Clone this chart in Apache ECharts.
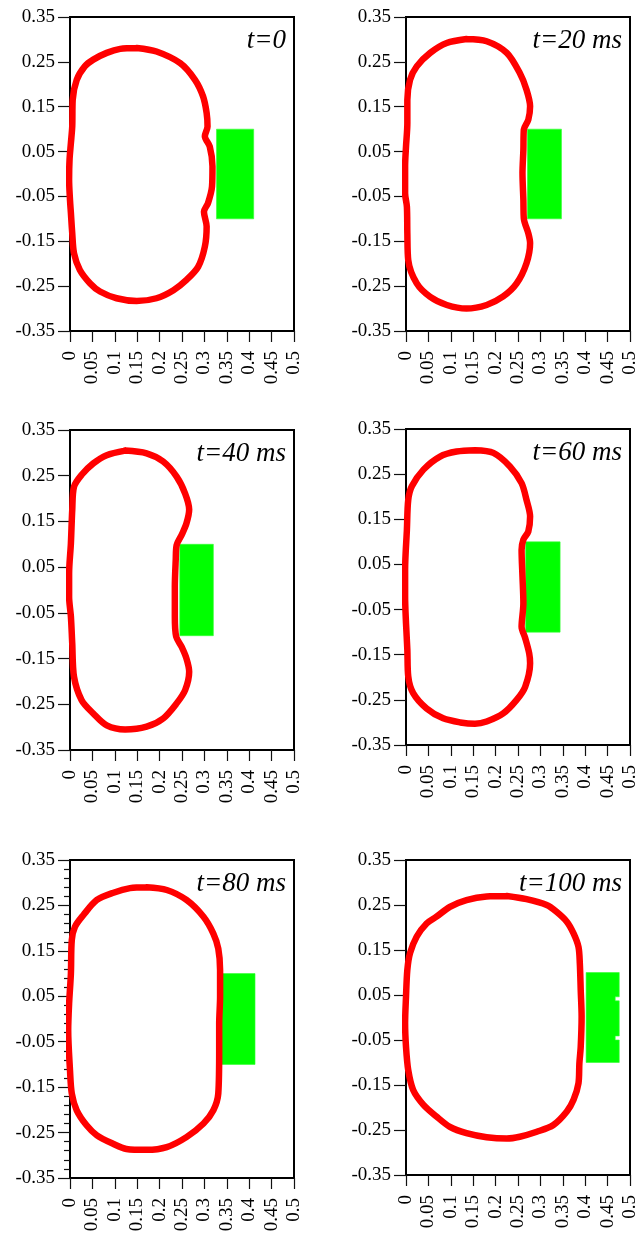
<!DOCTYPE html>
<html>
<head>
<meta charset="utf-8">
<title>shapes</title>
<script src="https://cdn.jsdelivr.net/npm/echarts@6/dist/echarts.min.js"></script>
<style>
html,body{margin:0;padding:0;background:#fff;}
#main{width:643px;height:1236px;}
</style>
</head>
<body>
<div id="main"></div>
<script>
// axis ticks
var xTicks = [0, 0.05, 0.1, 0.15, 0.2, 0.25, 0.3, 0.35, 0.4, 0.45, 0.5];
var yTicks = [-0.35, -0.25, -0.15, -0.05, 0.05, 0.15, 0.25, 0.35];
var titles = ['t=0', 't=20 ms', 't=40 ms', 't=60 ms', 't=80 ms', 't=100 ms'];

// red outlines (x, y)
var shape0 = [[0.149,0.281],[0.193,0.273],[0.246,0.247],[0.279,0.210],[0.297,0.173],[0.305,0.136],[0.307,0.106],[0.301,0.084],[0.312,0.061],[0.318,0.017],[0.317,-0.028],[0.308,-0.065],[0.299,-0.084],[0.305,-0.117],[0.301,-0.162],[0.286,-0.207],[0.260,-0.236],[0.231,-0.259],[0.193,-0.277],[0.149,-0.283],[0.104,-0.277],[0.067,-0.262],[0.045,-0.244],[0.022,-0.214],[0.009,-0.177],[0.005,-0.132],[0.002,-0.087],[0.000,-0.058],[-0.002,-0.013],[-0.001,0.032],[0.002,0.069],[0.005,0.106],[0.006,0.165],[0.015,0.210],[0.033,0.240],[0.052,0.255],[0.082,0.270],[0.112,0.279],[0.149,0.281]];
var shape20 = [[0.135,0.301],[0.180,0.296],[0.225,0.270],[0.254,0.225],[0.269,0.188],[0.277,0.151],[0.273,0.121],[0.263,0.099],[0.262,0.054],[0.260,0.002],[0.262,-0.058],[0.263,-0.099],[0.273,-0.132],[0.277,-0.154],[0.269,-0.199],[0.247,-0.244],[0.217,-0.273],[0.180,-0.292],[0.135,-0.300],[0.091,-0.292],[0.054,-0.274],[0.024,-0.244],[0.005,-0.192],[0.003,-0.132],[0.002,-0.073],[-0.002,-0.043],[-0.002,0.017],[0.000,0.061],[0.003,0.113],[0.003,0.165],[0.009,0.210],[0.024,0.240],[0.054,0.270],[0.091,0.292],[0.135,0.301]];
var shape40 = [[0.123,0.305],[0.171,0.299],[0.208,0.281],[0.238,0.248],[0.257,0.211],[0.266,0.176],[0.260,0.146],[0.249,0.120],[0.238,0.098],[0.236,0.066],[0.234,0.007],[0.234,-0.058],[0.237,-0.102],[0.249,-0.124],[0.260,-0.150],[0.266,-0.179],[0.257,-0.219],[0.238,-0.248],[0.208,-0.281],[0.171,-0.299],[0.123,-0.305],[0.082,-0.296],[0.052,-0.270],[0.026,-0.241],[0.009,-0.190],[0.005,-0.117],[0.002,-0.058],[-0.002,-0.015],[-0.002,0.036],[0.002,0.102],[0.005,0.175],[0.009,0.226],[0.026,0.252],[0.052,0.277],[0.082,0.295],[0.123,0.305]];
var shape60 = [[0.154,0.303],[0.195,0.297],[0.232,0.267],[0.258,0.230],[0.269,0.193],[0.277,0.156],[0.273,0.123],[0.262,0.105],[0.258,0.082],[0.260,0.023],[0.262,-0.036],[0.258,-0.088],[0.266,-0.113],[0.275,-0.147],[0.277,-0.169],[0.266,-0.221],[0.247,-0.250],[0.217,-0.280],[0.180,-0.298],[0.154,-0.303],[0.121,-0.300],[0.083,-0.291],[0.046,-0.269],[0.016,-0.235],[0.005,-0.198],[0.003,-0.139],[0.000,-0.080],[-0.002,-0.021],[-0.002,0.038],[0.002,0.127],[0.005,0.193],[0.013,0.223],[0.039,0.260],[0.076,0.289],[0.113,0.300],[0.154,0.303]];
var shape80 = [[0.171,0.290],[0.216,0.284],[0.260,0.262],[0.298,0.225],[0.320,0.188],[0.331,0.155],[0.335,0.108],[0.335,0.049],[0.333,-0.010],[0.333,-0.069],[0.331,-0.164],[0.320,-0.201],[0.298,-0.230],[0.260,-0.260],[0.216,-0.282],[0.171,-0.288],[0.126,-0.286],[0.097,-0.275],[0.060,-0.256],[0.037,-0.234],[0.015,-0.201],[0.004,-0.164],[0.000,-0.113],[-0.004,-0.025],[-0.002,0.034],[0.002,0.100],[0.004,0.174],[0.011,0.203],[0.030,0.229],[0.060,0.262],[0.097,0.278],[0.134,0.288],[0.171,0.290]];
var shape100 = [[0.225,0.270],[0.269,0.263],[0.314,0.250],[0.336,0.235],[0.359,0.213],[0.374,0.187],[0.385,0.157],[0.388,0.120],[0.390,0.061],[0.392,0.002],[0.390,-0.065],[0.387,-0.102],[0.385,-0.146],[0.374,-0.183],[0.359,-0.209],[0.329,-0.239],[0.292,-0.254],[0.254,-0.265],[0.225,-0.269],[0.180,-0.266],[0.135,-0.257],[0.098,-0.243],[0.068,-0.220],[0.039,-0.194],[0.016,-0.161],[0.005,-0.117],[0.000,-0.065],[-0.002,-0.013],[0.000,0.046],[0.003,0.106],[0.009,0.143],[0.024,0.180],[0.046,0.209],[0.068,0.224],[0.098,0.246],[0.135,0.261],[0.180,0.269],[0.225,0.270]];

// green blocks (polygon corners)
var block0 = [[0.327,0.1],[0.41,0.1],[0.41,-0.1],[0.327,-0.1]];
var block20 = [[0.271,0.1],[0.347,0.1],[0.347,-0.1],[0.271,-0.1]];
var block40 = [[0.245,0.1],[0.32,0.1],[0.32,-0.1],[0.245,-0.1]];
var block60 = [[0.267,0.1],[0.344,0.1],[0.344,-0.1],[0.267,-0.1]];
var block80 = [[0.337,0.1],[0.413,0.1],[0.413,-0.1],[0.337,-0.1]];
var block100 = [[0.402,0.1],[0.476,0.1],[0.476,0.046],[0.467,0.046],[0.467,0.037],[0.476,0.037],[0.476,-0.041],[0.467,-0.041],[0.467,-0.05],[0.476,-0.05],[0.476,-0.1],[0.402,-0.1]];

var shapes = [shape0, shape20, shape40, shape60, shape80, shape100];
var blocks = [block0, block20, block40, block60, block80, block100];

// minor y ticks, panel t=80 only
var minorY = [];
for (var k = 0; k < yTicks.length - 1; k++) {
	for (var m = 1; m < 5; m++) minorY.push(+(yTicks[k] + 0.02 * m).toFixed(3));
}

var W = 643;
var boxes = [
	{left:70, top:17, width:224, height:314},
	{left:406, top:17, width:224, height:314},
	{left:70, top:430, width:224, height:320},
	{left:406, top:429, width:224, height:316},
	{left:70, top:860, width:224, height:318},
	{left:406, top:860, width:224, height:315}
];

var font = 'Liberation Serif';
var tickStyle = {color:'#111', width:1.2};
var labelStyle = {fontFamily:font, fontSize:19, color:'#000'};

var option = {animation:false, title:[], grid:[], xAxis:[], yAxis:[], series:[]};

boxes.forEach(function(b, i){
	option.grid.push({left:b.left, top:b.top, width:b.width, height:b.height,
		show:true, borderColor:'#000', borderWidth:2, backgroundColor:'transparent'});
	option.title.push({text:titles[i], right:W - (b.left + b.width) + 8, top:b.top + 10, padding:0,
		textStyle:{fontFamily:font, fontStyle:'italic', fontWeight:'normal', fontSize:27, color:'#000'}});
	option.xAxis.push({gridIndex:i, type:'value', min:0, max:0.5,
		axisLine:{show:true, onZero:false, lineStyle:{color:'#000', width:2}},
		axisTick:{show:true, length:11, customValues:xTicks, lineStyle:tickStyle},
		axisLabel:Object.assign({customValues:xTicks, rotate:90, margin:20}, labelStyle),
		splitLine:{show:false}});
	option.yAxis.push({gridIndex:i, type:'value', min:-0.35, max:0.35,
		axisLine:{show:true, onZero:false, lineStyle:{color:'#000', width:2}},
		axisTick:{show:true, length:12, customValues:yTicks, lineStyle:tickStyle},
		axisLabel:Object.assign({customValues:yTicks, margin:15}, labelStyle),
		splitLine:{show:false}});
	option.series.push({type:'custom', xAxisIndex:i, yAxisIndex:i, data:[[0,0]], clip:false, silent:true, z:2,
		renderItem:(function(block){
			return function(params, api){
				return {type:'polygon', shape:{points:block.map(function(p){ return api.coord(p); })},
					style:{fill:'#00ff00', stroke:'#33ff33', lineWidth:0.6}};
			};
		})(blocks[i])});
	option.series.push({type:'line', xAxisIndex:i, yAxisIndex:i, data:shapes[i], symbol:'none', showSymbol:false,
		smooth:0.3, clip:false, silent:true, z:3, lineStyle:{color:'#ff0000', width:6.5, join:'round', cap:'round'}});
});

// extra axis just for the small ticks of panel 5
option.yAxis.push({gridIndex:4, type:'value', min:-0.35, max:0.35, position:'left',
	axisLine:{show:false}, axisLabel:{show:false}, splitLine:{show:false},
	axisTick:{show:true, length:6, customValues:minorY, lineStyle:tickStyle}});

var chart = echarts.init(document.getElementById('main'), null, {renderer:'canvas'});
chart.setOption(option);
</script>
</body>
</html>
